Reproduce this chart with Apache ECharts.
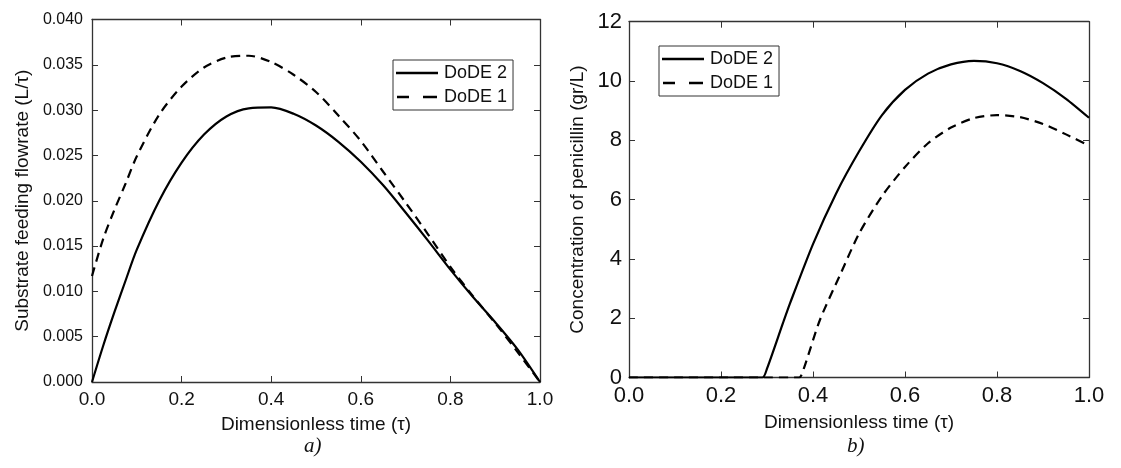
<!DOCTYPE html>
<html>
<head>
<meta charset="utf-8">
<script src="https://cdn.jsdelivr.net/npm/echarts@6/dist/echarts.min.js"></script>
<style>html,body{margin:0;padding:0;background:#fff;}#c{width:1121px;height:468px;}</style>
</head>
<body>
<div id="c"></div>
<script>
// ---- Data ----
const tA = [0, 0.025, 0.05, 0.075, 0.1, 0.15, 0.2, 0.25, 0.3, 0.35, 0.4, 0.45, 0.5, 0.55, 0.6, 0.65, 0.7, 0.75, 0.8, 0.85, 0.9, 0.95, 1.0];
const feedDoDE2 = [0, 0.0040, 0.0077, 0.0112, 0.0146, 0.0200, 0.0242, 0.0273, 0.0293, 0.0302, 0.0303, 0.0296, 0.0283, 0.0265, 0.0243, 0.0217, 0.0187, 0.0156, 0.0124, 0.0094, 0.0066, 0.0036, 0];
const feedDoDE1 = [0.0117, 0.0158, 0.0190, 0.0219, 0.0249, 0.0295, 0.0326, 0.0347, 0.0358, 0.0360, 0.0353, 0.0339, 0.0320, 0.0294, 0.0266, 0.0232, 0.0198, 0.0163, 0.0127, 0.0095, 0.0065, 0.0033, 0];

const tB2 = [0, 0.1, 0.2, 0.29, 0.30, 0.335, 0.35, 0.4, 0.45, 0.5, 0.55, 0.6, 0.65, 0.7, 0.75, 0.8, 0.85, 0.9, 0.95, 1.0];
const penDoDE2 = [0, 0, 0, 0, 0.3, 1.85, 2.5, 4.5, 6.2, 7.62, 8.85, 9.7, 10.25, 10.56, 10.68, 10.6, 10.34, 9.93, 9.4, 8.76];
const tB1 = [0, 0.1, 0.2, 0.3, 0.37, 0.38, 0.415, 0.46, 0.5, 0.55, 0.6, 0.65, 0.7, 0.75, 0.8, 0.85, 0.9, 0.95, 1.0];
const penDoDE1 = [0, 0, 0, 0, 0, 0.3, 1.94, 3.5, 4.85, 6.12, 7.1, 7.9, 8.43, 8.75, 8.85, 8.78, 8.55, 8.2, 7.82];

const legendNames = ['DoDE 2', 'DoDE 1'];

const pair = (t, v) => t.map((x, i) => [x, v[i]]);

const FONT = 'Liberation Sans, Arial, sans-serif';
const AX = '#333';

function xAxisPair(gi, fs, margin, name, gap) {
  return [
    { type: 'value', gridIndex: gi, min: 0, max: 1, interval: 0.2,
      axisLine: { lineStyle: { color: AX, width: 1.3 } },
      axisTick: { inside: true, length: 6, lineStyle: { color: AX } },
      axisLabel: { color: '#111', fontSize: fs, fontFamily: FONT, margin: margin, formatter: v => v.toFixed(1) },
      splitLine: { show: false },
      name: name, nameLocation: 'middle', nameGap: gap,
      nameTextStyle: { color: '#111', fontSize: 19, fontFamily: FONT } },
    { type: 'value', gridIndex: gi, position: 'top', min: 0, max: 1, interval: 0.2,
      axisLine: { show: true, onZero: false, lineStyle: { color: AX, width: 1.3 } },
      axisTick: { inside: true, length: 6, lineStyle: { color: AX } },
      axisLabel: { show: false }, splitLine: { show: false } }
  ];
}
function yAxisPair(gi, min, max, itv, fs, dec, margin, name, gap) {
  return [
    { type: 'value', gridIndex: gi, min: min, max: max, interval: itv,
      axisLine: { show: true, lineStyle: { color: AX, width: 1.3 } },
      axisTick: { show: true, inside: true, length: 6, lineStyle: { color: AX } },
      axisLabel: { color: '#111', fontSize: fs, fontFamily: FONT, margin: margin, formatter: v => v.toFixed(dec) },
      splitLine: { show: false },
      name: name, nameLocation: 'middle', nameGap: gap,
      nameTextStyle: { color: '#111', fontSize: 19, fontFamily: FONT } },
    { type: 'value', gridIndex: gi, position: 'right', min: min, max: max, interval: itv,
      axisLine: { show: true, onZero: false, lineStyle: { color: AX, width: 1.3 } },
      axisTick: { show: true, inside: true, length: 6, lineStyle: { color: AX } },
      axisLabel: { show: false }, splitLine: { show: false } }
  ];
}

const solid = { color: '#000', width: 2.2, type: 'solid' };
const dashed = { color: '#000', width: 2.2, type: [9, 6] };
const iconSolid = 'path://M0,0h42v2.4h-42z';
const iconDashed = 'path://M0,0h12v2.4h-12zM26,0h14v2.4h-14z';

function legendAt(left, top) {
  return { left: left, top: top, orient: 'vertical', itemWidth: 42, itemHeight: 2.4, itemGap: 6,
    symbolKeepAspect: true,
    padding: [4, 6, 4, 3], borderColor: '#333', borderWidth: 1, backgroundColor: '#fff',
    textStyle: { fontSize: 18, fontFamily: FONT, color: '#111', padding: [0, 0, 0, 1] },
    data: [{ name: legendNames[0], icon: iconSolid }, { name: legendNames[1], icon: iconDashed }],
    itemStyle: { color: '#000', borderWidth: 0 } };
}

const chart = echarts.init(document.getElementById('c'), null, { renderer: 'canvas' });
chart.setOption({
  animation: false,
  backgroundColor: '#fff',
  grid: [
    { left: 92, top: 19.5, width: 448, height: 362.5 },
    { left: 629, top: 21.7, width: 460, height: 355.8 }
  ],
  xAxis: [...xAxisPair(0, 19, 8, 'Dimensionless time (τ)', 33), ...xAxisPair(1, 22, 7, 'Dimensionless time (τ)', 36)],
  yAxis: [...yAxisPair(0, 0, 0.04, 0.005, 16, 3, 9, 'Substrate feeding flowrate (L/τ)', 60),
          ...yAxisPair(1, 0, 12, 2, 22, 0, 7, 'Concentration of penicillin (gr/L)', 42)],
  legend: [legendAt(393, 60), legendAt(659, 46)],
  series: [
    { name: legendNames[0], type: 'line', xAxisIndex: 0, yAxisIndex: 0, data: pair(tA, feedDoDE2), smooth: 0.3, showSymbol: false, symbol: 'none', lineStyle: solid, itemStyle: { color: '#000' } },
    { name: legendNames[1], type: 'line', xAxisIndex: 0, yAxisIndex: 0, data: pair(tA, feedDoDE1), smooth: 0.3, showSymbol: false, symbol: 'none', lineStyle: dashed, itemStyle: { color: '#000' } },
    { name: legendNames[0], type: 'line', xAxisIndex: 2, yAxisIndex: 2, data: pair(tB2, penDoDE2), smooth: 0.25, showSymbol: false, symbol: 'none', lineStyle: solid, itemStyle: { color: '#000' } },
    { name: legendNames[1], type: 'line', xAxisIndex: 2, yAxisIndex: 2, data: pair(tB1, penDoDE1), smooth: 0.25, showSymbol: false, symbol: 'none', lineStyle: dashed, itemStyle: { color: '#000' } }
  ],
  graphic: [
    { type: 'text', left: 304, top: 436, style: { text: 'a)', font: 'italic 21px "Liberation Serif", "Times New Roman", serif', fill: '#111' } },
    { type: 'text', left: 847, top: 436, style: { text: 'b)', font: 'italic 21px "Liberation Serif", "Times New Roman", serif', fill: '#111' } }
  ]
});
</script>
</body>
</html>
